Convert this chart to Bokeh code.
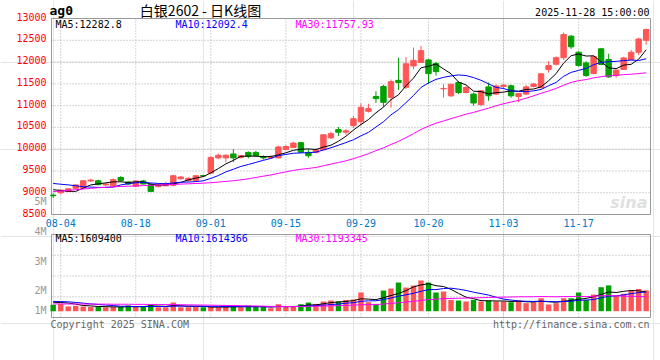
import numpy as np
import pandas as pd
from bokeh.plotting import figure
from bokeh.models import Range1d, ColumnDataSource
from bokeh.core.properties import value
from bokeh.embed import file_html
from bokeh.resources import INLINE

# ---------------- data ----------------
holidays = ["2025-10-01", "2025-10-02", "2025-10-03", "2025-10-06", "2025-10-07", "2025-10-08"]
trade_days = [d for d in pd.bdate_range("2025-08-01", "2025-11-28")
              if d.strftime("%Y-%m-%d") not in holidays]
dates = [d.strftime("%m-%d") for d in trade_days]

open_ = [8945, 9000, 9030, 9100, 9110, 9270, 9275, 9180, 9160, 9350,
         9245, 9150, 9270, 9190, 9140, 9160, 9170, 9320, 9280, 9280,
         9395, 9450, 9800, 9800, 9890, 9810, 9925, 9925, 9830, 9800,
         9800, 9990, 10040, 10150, 9925, 9925, 9985, 10260, 10450, 10390,
         10540, 10630, 10870, 11210, 11440, 11190, 11580, 11420, 11910, 11990,
         12050, 11965, 11385, 11225, 11530, 11300, 11265, 11020, 11430, 11265,
         11440, 11455, 11210, 11265, 11440, 11410, 11830, 11950, 12100, 12595,
         12225, 11980, 11735, 12305, 12060, 11690, 11830, 12055, 12225, 12500]
high = [8985, 9075, 9100, 9190, 9280, 9320, 9300, 9230, 9330, 9380,
        9265, 9280, 9290, 9220, 9200, 9250, 9400, 9380, 9355, 9400,
        9410, 9840, 9900, 9880, 10000, 9870, 9950, 9960, 9860, 9860,
        10080, 10090, 10170, 10160, 10000, 10020, 10340, 10400, 10510, 10460,
        10760, 11050, 11040, 11330, 11480, 11600, 12100, 12115, 12330, 12370,
        12070, 12000, 11490, 11500, 11560, 11450, 11300, 11350, 11530, 11490,
        11490, 11480, 11290, 11470, 11520, 11740, 12020, 12130, 12680, 12620,
        12250, 12020, 12140, 12310, 12190, 11830, 12120, 12280, 12560, 12770]
low = [8880, 8960, 9020, 9090, 9100, 9250, 9170, 9150, 9140, 9250,
       9180, 9140, 9190, 9030, 9120, 9150, 9150, 9300, 9250, 9270,
       9370, 9430, 9770, 9700, 9700, 9780, 9790, 9830, 9760, 9780,
       9790, 9980, 10030, 9920, 9800, 9900, 9980, 10230, 10300, 10330,
       10490, 10540, 10840, 11060, 10970, 10950, 11360, 11380, 11835, 11985,
       11500, 11690, 11185, 11200, 11270, 11280, 11000, 11000, 11110, 11240,
       11380, 11180, 11080, 11240, 11420, 11400, 11760, 11920, 12050, 12300,
       11900, 11660, 11720, 11930, 11640, 11640, 11820, 12045, 12160, 12400]
close = [8930, 9060, 9090, 9180, 9275, 9290, 9185, 9200, 9300, 9280,
         9200, 9270, 9200, 9030, 9180, 9210, 9390, 9360, 9330, 9390,
         9385, 9810, 9860, 9860, 9800, 9850, 9835, 9850, 9800, 9820,
         10050, 10060, 10140, 9930, 9850, 9985, 10330, 10355, 10390, 10420,
         10700, 10960, 10930, 11160, 11075, 11550, 11530, 11960, 12040, 12260,
         11735, 11780, 11395, 11490, 11300, 11415, 11060, 11340, 11225, 11450,
         11470, 11225, 11280, 11430, 11495, 11730, 11920, 12100, 12630, 12350,
         11920, 11690, 12130, 11945, 11660, 11815, 12095, 12225, 12530, 12745]
volume = [530000, 610000, 390000, 450000, 400000, 360000, 360000, 330000, 360000, 360000,
          470000, 360000, 400000, 580000, 330000, 330000, 720000, 330000, 330000, 360000,
          330000, 360000, 330000, 360000, 450000, 330000, 470000, 360000, 360000, 250000,
          580000, 360000, 360000, 580000, 720000, 610000, 810000, 890000, 810000, 940000,
          970000, 1560000, 750000, 610000, 1720000, 1890000, 2390000, 1970000, 2140000, 2560000,
          2390000, 1560000, 1640000, 940000, 890000, 810000, 940000, 810000, 890000, 810000,
          810000, 750000, 890000, 670000, 750000, 1080000, 560000, 670000, 1080000, 1080000,
          1560000, 940000, 1390000, 2000000, 2150000, 1300000, 1450000, 1720000, 1850000, 1730000]

# moving-average values before a full window exists
ma5_lead = [9070, 9050, 9035, 9030]
ma10_lead = [9213, 9195, 9180, 9160, 9137, 9130, 9122, 9122, 9130]
ma30_lead = [9025, 9040, 9055, 9070, 9085, 9100, 9115, 9125, 9135, 9143,
             9150, 9156, 9163, 9170, 9176, 9183, 9190, 9198, 9205, 9212,
             9220, 9230, 9245, 9260, 9275, 9295, 9320, 9350, 9380]
vma5_lead = [750000, 720000, 680000, 590000]
vma10_lead = [810000, 800000, 780000, 730000, 670000, 610000, 560000, 510000, 470000]
vma30_lead = [610000, 610000, 600000, 600000, 600000, 590000, 590000, 590000, 580000, 580000,
              580000, 570000, 570000, 560000, 560000, 550000, 550000, 540000, 530000, 520000,
              510000, 500000, 490000, 480000, 470000, 460000, 450000, 430000, 420000]

price_ticks = [8500, 9000, 9500, 10000, 10500, 11000, 11500, 12000, 12500, 13000]
date_tick_labels = ["08-04", "08-18", "09-01", "09-15", "09-29", "10-20", "11-03", "11-17"]
vol_tick_labels = ["5M", "4M", "3M", "2M", "1M"]
price_legend = ["MA5:12282.8", "MA10:12092.4", "MA30:11757.93"]
vol_legend = ["MA5:1609400", "MA10:1614366", "MA30:1193345"]
title_code = "ag0"
title_text = "白银2602 - 日K线图"
time_text = "2025-11-28 15:00:00"
footer_left = "Copyright 2025 SINA.COM"
footer_right = "http://finance.sina.com.cn"

# ---------------- styling / geometry ----------------
FONT = "DejaVu Sans Mono"
UP = "#FF5555"
DOWN = "#00A000"
MA_COLORS = ["#000000", "#0000FF", "#FF00FF"]
GRID = "#AAAAAA"
FRAME = "#999999"
W, H = 660, 360

PANEL_L, PANEL_R = 51, 650          # panel edges, px
FIRST_X, PX_PER_DAY = 52.7, 7.506   # first candle centre, day spacing, px
P_TOP, P_BOT = 18, 214              # price panel top/bottom, px
V_TOP, V_BOT, V_BASE = 234, 317, 310.7   # volume panel, px
V_PX_PER_UNIT = 12.0 / 1e6

YMIN, YMAX = price_ticks[0], price_ticks[-1]
PRICE_PER_PX = (YMAX - YMIN) / (P_BOT - P_TOP)
XS = -FIRST_X / PX_PER_DAY
XE = XS + W / PX_PER_DAY
PE = YMAX + P_TOP * PRICE_PER_PX
PS = PE - H * PRICE_PER_PX
VE = V_BASE / V_PX_PER_UNIT
VS = VE - H / V_PX_PER_UNIT


def dx(px):
    return XS + px / PX_PER_DAY


def dy(py):
    return PE - py * PRICE_PER_PX


def dv(py):
    return VE - py / V_PX_PER_UNIT


X0, X1 = dx(PANEL_L), dx(PANEL_R)
VT, VB = dv(V_TOP), dv(V_BOT)

# ---------------- derived series ----------------
n = len(close)
idx = np.arange(n)
o = np.array(open_, float); c = np.array(close, float)
h = np.array(high, float); l = np.array(low, float)
v = np.array(volume, float)


def moving_average(vals, w, lead):
    s = pd.Series(vals, dtype=float).rolling(w).mean().to_numpy()
    s[:w - 1] = lead
    return s


ma_price = [moving_average(c, 5, ma5_lead), moving_average(c, 10, ma10_lead),
            moving_average(c, 30, ma30_lead)]
ma_vol = [moving_average(v, 5, vma5_lead), moving_average(v, 10, vma10_lead),
          moving_average(v, 30, vma30_lead)]

colors = np.where(c >= o, UP, DOWN)
src = ColumnDataSource(dict(x=idx, top=np.maximum(o, c), bottom=np.minimum(o, c),
                            high=h, low=l, vol=v, color=colors))
tick_pos = [dates.index(t) for t in date_tick_labels]

# ---------------- figure ----------------
p = figure(width=W, height=H, x_range=Range1d(XS, XE), y_range=Range1d(PS, PE),
           output_backend="svg", toolbar_location=None, min_border=0,
           x_axis_location=None, y_axis_location=None)
p.extra_y_ranges = {"vol": Range1d(VS, VE)}
p.outline_line_color = None
p.background_fill_color = "white"
p.border_fill_color = "white"

grid_kw = dict(line_color=GRID, line_dash="1 2", line_width=1)
k = len(tick_pos)
# price panel grid
p.segment(x0=tick_pos, y0=[YMIN] * k, x1=tick_pos, y1=[YMAX] * k, **grid_kw)
inner = price_ticks[1:-1]
p.segment(x0=[X0] * len(inner), y0=inner, x1=[X1] * len(inner), y1=inner, **grid_kw)
# volume panel grid
p.segment(x0=tick_pos, y0=[VB] * k, x1=tick_pos, y1=[VT] * k, y_range_name="vol", **grid_kw)
vgrid = [VB + (VT - VB) * q / 4 for q in (1, 2, 3)]
p.segment(x0=[X0] * 3, y0=vgrid, x1=[X1] * 3, y1=vgrid, y_range_name="vol", **grid_kw)

# panel frames
p.quad(left=[X0], right=[X1], bottom=[YMIN], top=[YMAX], fill_color=None,
       line_color=FRAME, line_width=1)
p.quad(left=[X0], right=[X1], bottom=[VB], top=[VT], fill_color=None,
       line_color=FRAME, line_width=1, y_range_name="vol")

# candles
p.segment(x0="x", y0="high", x1="x", y1="low", color="color", line_width=1, source=src)
p.vbar(x="x", width=0.72, top="top", bottom="bottom", fill_color="color",
       line_color="color", line_width=1, source=src)
for ma, col in zip(ma_price, MA_COLORS):
    p.line(idx, ma, color=col, line_width=1)

# volume
p.vbar(x="x", width=0.72, top="vol", bottom=0, fill_color="color", line_color=None,
       source=src, y_range_name="vol")
for ma, col in zip(ma_vol, MA_COLORS):
    p.line(idx, ma, color=col, line_width=1, y_range_name="vol")

# ---------------- texts ----------------
mono = dict(text_font=value(FONT), text_font_size="10px", text_baseline="middle")

# price tick labels
p.text(x=[X0] * len(price_ticks), y=price_ticks, text=[str(t) for t in price_ticks],
       x_offset=-5, y_offset=-2, text_align="right", text_color="#FF0000", **mono)
# date tick labels
p.text(x=tick_pos, y=[YMIN] * k, text=date_tick_labels, y_offset=8,
       text_align="center", text_color="#0078C8", **mono)
# volume tick labels (as placed on the chart)
p.text(x=[dx(46)] * 5, y=[dv(py) for py in (200.7, 230.7, 261, 290, 310)],
       text=vol_tick_labels, y_range_name="vol", text_align="right",
       text_color="#999999", **mono)
# legends
p.text(x=[dx(55), dx(175), dx(295)], y=[dy(24)] * 3, text=price_legend,
       text_align="left", text_color=MA_COLORS, **mono)
p.text(x=[dx(55), dx(175), dx(295)], y=[dv(238.3)] * 3, text=vol_legend,
       y_range_name="vol", text_align="left", text_color=MA_COLORS, **mono)
# header
p.text(x=[dx(49)], y=[dy(10)], text=[title_code], text_font=value(FONT),
       text_font_size="13px", text_font_style="bold", text_baseline="middle",
       text_align="left", text_color="#000000")
p.text(x=[dx(200)], y=[dy(9.5)], text=[title_text], text_font=value("Noto Sans CJK SC"),
       text_font_size="14px", text_baseline="middle", text_align="center",
       text_color="#000000")
p.text(x=[dx(649)], y=[dy(12)], text=[time_text], text_align="right",
       text_color="#000000", **mono)
# footer
p.text(x=[dx(50)], y=[dy(324)], text=[footer_left], text_align="left",
       text_color="#666666", **mono)
p.text(x=[dx(649)], y=[dy(324)], text=[footer_right], text_align="right",
       text_color="#666666", **mono)
# watermark
p.text(x=[dx(647)], y=[dy(202)], text=["sina"], text_font=value("DejaVu Sans"),
       text_font_size="16px", text_font_style="bold italic", text_baseline="middle",
       text_align="right", text_color="#E0E0E0")

open("out.html", "w").write(file_html(p, INLINE))
